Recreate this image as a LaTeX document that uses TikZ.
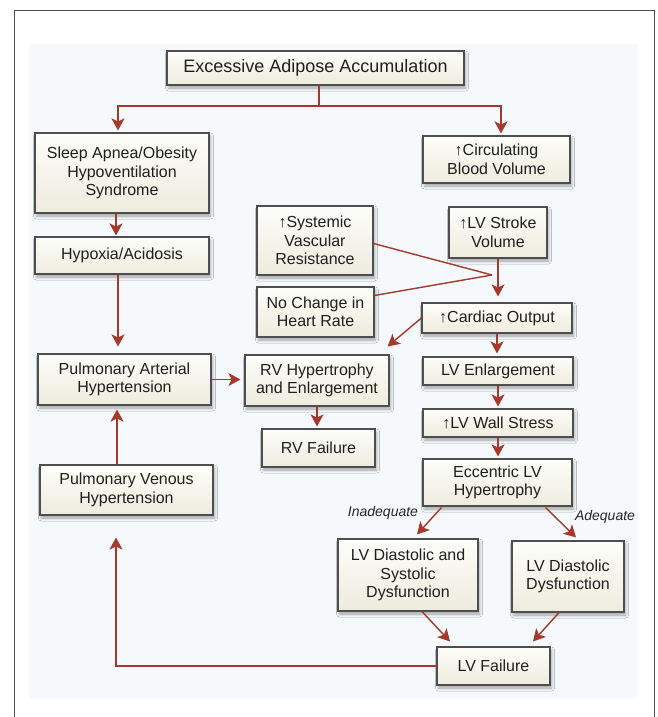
\documentclass[tikz,border=0pt]{standalone}
\usepackage{fontspec}
\setmainfont{Liberation Sans}
\usetikzlibrary{arrows.meta,shadows.blur,calc}
\definecolor{arrowred}{RGB}{166,56,44}
\definecolor{panelbg}{RGB}{246,249,251}
\definecolor{boxtop}{RGB}{253,253,250}
\definecolor{boxbot}{RGB}{238,236,222}
\definecolor{boxline}{RGB}{78,78,78}
\begin{document}
\begin{tikzpicture}[x=1pt,y=-1pt,
 box/.style={draw=boxline, line width=1.1pt, top color=boxtop, bottom color=boxbot, inner sep=0pt, align=center, text=black!88,
   font=\fontsize{16}{18.5}\selectfont,
   blur shadow={shadow xshift=1.5pt, shadow yshift=-3pt, shadow blur radius=3pt, shadow opacity=35}},
 sz/.style 2 args={minimum width=#1pt, minimum height=#2pt},
 arr/.style={draw=arrowred, line width=1.4pt, -{Stealth[length=12pt,width=13pt,inset=3pt]}, shorten >=2pt},
 conn/.style={draw=arrowred, line width=1.4pt},
 lbl/.style={font=\fontsize{14}{16}\selectfont\itshape, text=black!85}]
\useasboundingbox (0,0) rectangle (658,717);
\fill[white] (0,0) rectangle (658,717);
\fill[panelbg] (29,44) rectangle (638,698);
\draw[gray!60!black, line width=1pt] (14,717) -- (14,11) -- (654,11) -- (654,717);

% boxes
\node[box, sz={297}{34}, font=\fontsize{18}{21}\selectfont] (exc) at (315.5,68) {Excessive Adipose Accumulation};
\node[box, sz={174}{80}] (sleep) at (122,173) {Sleep Apnea/Obesity\\Hypoventilation\\Syndrome};
\node[box, sz={147}{47}] (circ) at (496.5,159.5) {↑Circulating\\Blood Volume};
\node[box, sz={174}{37}] (hyp) at (122,255.5) {Hypoxia/Acidosis};
\node[box, sz={116}{69}] (svr) at (315,240.5) {↑Systemic\\Vascular\\Resistance};
\node[box, sz={98}{51}] (lvsv) at (498,232.5) {↑LV Stroke\\Volume};
\node[box, sz={117}{50}] (nochg) at (315.5,312) {No Change in\\Heart Rate};
\node[box, sz={150}{30}] (co) at (497,318) {↑Cardiac Output};
\node[box, sz={173}{51}] (pah) at (124.5,379.5) {Pulmonary Arterial\\Hypertension};
\node[box, sz={144}{51}] (rvh) at (317,380.5) {RV Hypertrophy\\and Enlargement};
\node[box, sz={150}{28}] (lve) at (498,371) {LV Enlargement};
\node[box, sz={113}{38}] (rvf) at (318.5,448) {RV Failure};
\node[box, sz={150}{28}] (lvws) at (498,423) {↑LV Wall Stress};
\node[box, sz={173}{50}] (pvh) at (126.5,490) {Pulmonary Venous\\Hypertension};
\node[box, sz={149}{47}] (ecc) at (497.5,482.5) {Eccentric LV\\Hypertrophy};
\node[box, sz={140}{72}] (lvds) at (408,575) {LV Diastolic and\\Systolic\\Dysfunction};
\node[box, sz={112}{71}] (lvd) at (568,576.5) {LV Diastolic\\Dysfunction};
\node[box, sz={113}{38}] (lvf) at (493.5,666) {LV Failure};

% labels
\node[lbl] (inad) at (383,513) {Inadequate};
\node[lbl] (adeq) at (605,517) {Adequate};

% connectors
\coordinate (j1) at (319,106);
\draw[conn] (exc.south -| j1) -- (j1);
\draw[arr] (j1) -| ([xshift=-4pt]sleep.north);
\draw[arr] (j1) -| ([xshift=4.5pt]circ.north);
\draw[arr, shorten >=1pt] ([xshift=-6pt]sleep.south) -- ([xshift=-6pt]hyp.north);
\draw[arr, shorten >=7pt] ([xshift=-4pt]hyp.south) -- ([xshift=-4pt]hyp.south |- pah.north);
\draw[arr, shorten >=4pt] ([xshift=-9.5pt]pvh.north) -- ([xshift=-9.5pt]pvh.north |- pah.south);
\draw[arr, shorten >=4pt] (pah.east) -- (pah.east -| rvh.west);
\draw[arr] (rvh.south) -- (rvh.south |- rvf.north);

\coordinate (jn) at (492,275);
\draw[conn] ([yshift=-3pt]svr.east) -- (jn);
\draw[conn] ([yshift=-9pt]nochg.north east) -- (jn);
\draw[arr, shorten >=6pt] (lvsv.south) -- (lvsv.south |- co.north);
\draw[arr, shorten >=0pt] (co.west) -- ($(rvh.north east)+(-2,-8)$);
\draw[arr, shorten >=3pt] (co.south) -- (co.south |- lve.north);
\draw[arr] (lve.south) -- (lve.south |- lvws.north);
\draw[arr] (lvws.south) -- (lvws.south |- ecc.north);
\draw[arr, shorten >=0pt] ($(ecc.south west)+(19,1)$) -- ($(lvds.north)+(9,-4)$);
\draw[arr, shorten >=0pt] ($(ecc.south east)+(-27,1)$) -- ($(lvd.north)+(8,-3)$);
\draw[arr, shorten >=0pt] ($(lvds.south)+(14,0)$) -- ($(lvf.north)+(-43.5,-5)$);
\draw[arr, shorten >=0pt] ($(lvd.south)+(-9,0)$) -- ($(lvf.north)+(39.5,-5)$);
\draw[arr, shorten >=0pt] (lvf.west) -| ($(pvh.south)+(-10.5,22)$);
\end{tikzpicture}
\end{document}
